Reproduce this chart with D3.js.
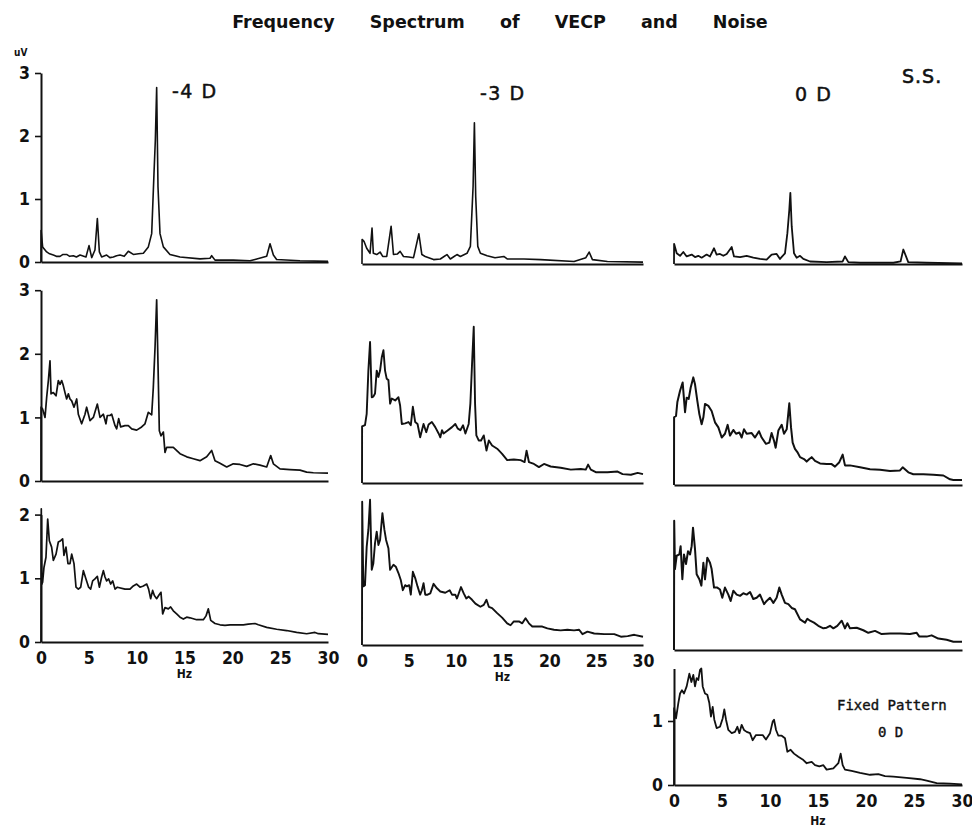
<!DOCTYPE html>
<html>
<head>
<meta charset="utf-8">
<script src="https://cdn.jsdelivr.net/npm/d3@7"></script>
<style>
  body { margin: 0; background: #fff; }
  svg { display: block; }
</style>
</head>
<body>
<svg id="chart" width="972" height="828"></svg>
<script>
// ---- Spectra: [frequency Hz, amplitude uV] ----
const upper_m4D = [[0,0],[0.01,0.50],[0.17,0.24],[0.59,0.16],[0.9,0.13],[1.29,0.11],[1.6,0.09],[1.99,0.09],[2.3,0.12],[2.68,0.12],[3.0,0.09],[3.38,0.10],[3.7,0.08],[4.08,0.11],[4.70,0.08],[5.02,0.26],[5.30,0.07],[5.64,0.19],[5.89,0.69],[6.10,0.16],[6.34,0.08],[6.86,0.11],[7.2,0.07],[7.56,0.08],[7.9,0.10],[8.26,0.11],[8.7,0.09],[9.13,0.17],[9.65,0.12],[10.2,0.13],[10.70,0.14],[11.22,0.24],[11.57,0.45],[11.81,1.40],[11.95,1.93],[12.09,2.77],[12.23,1.19],[12.44,0.45],[12.79,0.24],[13.48,0.12],[14.53,0.08],[16.62,0.05],[17.67,0.06],[17.84,0.10],[18.19,0.03],[20.10,0.03],[21.85,0.02],[22.37,0.04],[23.59,0.09],[23.94,0.29],[24.29,0.11],[24.63,0.04],[27.07,0.02],[30,0.01]];

const upper_m3D = [[0,0],[0.01,0.39],[0.21,0.36],[0.5,0.25],[0.86,0.17],[1.07,0.57],[1.21,0.17],[1.57,0.15],[1.93,0.19],[2.21,0.12],[2.64,0.12],[3.11,0.60],[3.36,0.15],[3.79,0.16],[4.07,0.20],[4.43,0.12],[5.0,0.11],[5.5,0.10],[6.07,0.48],[6.39,0.15],[6.75,0.12],[7.64,0.07],[8.36,0.08],[9.07,0.15],[9.43,0.08],[10.14,0.15],[10.5,0.12],[11.21,0.17],[11.57,0.28],[11.86,1.23],[12.0,2.24],[12.14,1.07],[12.36,0.28],[12.64,0.17],[13.36,0.13],[14.2,0.10],[15.14,0.12],[15.5,0.08],[17.29,0.08],[19.07,0.07],[22.64,0.04],[23.9,0.10],[24.25,0.19],[24.6,0.07],[26.2,0.04],[30,0.03]];

const upper_0D = [[0,0],[0.01,0.32],[0.28,0.17],[0.63,0.13],[0.97,0.19],[1.32,0.12],[1.84,0.15],[2.19,0.11],[2.53,0.13],[2.88,0.10],[3.40,0.15],[3.75,0.12],[4.17,0.25],[4.44,0.15],[4.79,0.16],[5.14,0.13],[5.49,0.16],[6.01,0.27],[6.25,0.12],[6.88,0.11],[7.57,0.13],[8.26,0.10],[8.96,0.08],[9.65,0.07],[10.17,0.15],[10.69,0.16],[11.04,0.08],[11.56,0.17],[11.81,0.49],[12.01,0.86],[12.12,1.13],[12.26,0.60],[12.5,0.17],[12.78,0.10],[13.13,0.13],[13.47,0.08],[14.17,0.04],[15.9,0.03],[17.57,0.04],[17.81,0.12],[18.16,0.03],[19.38,0.02],[22.85,0.02],[23.6,0.04],[23.89,0.23],[24.4,0.03],[26.3,0.02],[30,0.01]];

const middle_m4D = [[0,0],[0.01,1.16],[0.17,1.13],[0.42,1.00],[0.59,1.31],[0.77,1.58],[0.94,1.89],[1.05,1.37],[1.29,1.39],[1.57,1.34],[1.81,1.58],[1.99,1.52],[2.16,1.58],[2.33,1.50],[2.54,1.37],[2.68,1.29],[2.86,1.37],[3.03,1.29],[3.21,1.26],[3.45,1.16],[3.73,1.29],[3.90,1.05],[4.25,0.90],[4.60,1.05],[4.77,1.16],[5.12,0.95],[5.47,1.00],[5.89,1.21],[6.17,1.00],[6.52,1.05],[6.79,0.90],[6.93,1.03],[7.21,1.03],[7.39,1.05],[7.74,0.87],[7.91,0.82],[8.12,0.98],[8.33,0.85],[8.78,0.87],[9.13,0.87],[9.48,0.82],[10.0,0.80],[10.52,0.85],[10.87,0.90],[11.22,1.08],[11.57,1.04],[11.74,1.47],[11.92,2.10],[12.09,2.85],[12.23,1.84],[12.37,0.79],[12.54,0.71],[12.79,0.77],[12.96,0.45],[13.14,0.53],[13.83,0.53],[14.53,0.43],[15.23,0.38],[15.92,0.35],[16.62,0.32],[17.32,0.38],[17.84,0.48],[18.19,0.32],[18.71,0.28],[19.41,0.22],[20.10,0.27],[20.80,0.26],[21.50,0.23],[22.20,0.27],[22.89,0.25],[23.59,0.22],[24.01,0.40],[24.29,0.27],[24.98,0.19],[26.03,0.18],[27.07,0.17],[27.77,0.14],[28.47,0.13],[30,0.125]];

const middle_m3D = [[0,0],[0.01,0.89],[0.32,0.91],[0.5,1.09],[0.68,1.77],[0.86,2.22],[1.04,1.35],[1.21,1.36],[1.39,1.41],[1.57,1.77],[1.75,1.67],[1.93,1.77],[2.11,1.98],[2.29,2.09],[2.46,1.77],[2.64,1.64],[2.82,1.62],[3.0,1.25],[3.18,1.33],[3.54,1.30],[3.89,1.35],[4.07,1.22],[4.25,0.93],[4.61,0.94],[4.96,0.96],[5.21,0.91],[5.43,1.20],[5.68,0.96],[5.93,0.93],[6.21,0.72],[6.57,0.93],[6.86,0.80],[7.11,0.92],[7.46,0.96],[7.82,0.88],[8.18,0.78],[8.36,0.72],[8.54,0.83],[8.71,0.78],[9.07,0.82],[9.61,0.88],[9.96,0.93],[10.21,0.86],[10.5,0.83],[10.79,0.91],[11.04,0.78],[11.39,0.93],[11.57,1.25],[11.75,1.88],[11.93,2.46],[12.07,1.25],[12.21,0.75],[12.46,0.67],[12.71,0.67],[13.0,0.75],[13.29,0.51],[13.54,0.67],[13.89,0.59],[14.43,0.54],[14.96,0.46],[15.5,0.36],[16.21,0.37],[16.93,0.36],[17.36,0.33],[17.57,0.51],[17.82,0.33],[18.36,0.30],[18.89,0.25],[19.43,0.30],[20.14,0.26],[21.21,0.24],[22.29,0.21],[23.36,0.22],[23.89,0.21],[24.14,0.29],[24.43,0.21],[24.96,0.17],[26.21,0.17],[27.29,0.18],[27.82,0.14],[28.71,0.13],[29.43,0.16],[30,0.14]];

const middle_0D = [[0,0],[0.01,1.07],[0.21,1.09],[0.35,1.31],[0.63,1.49],[0.90,1.62],[1.15,1.15],[1.32,1.38],[1.53,1.36],[1.74,1.54],[2.01,1.70],[2.19,1.59],[2.43,1.33],[2.64,1.12],[2.88,0.96],[3.06,1.07],[3.23,1.28],[3.58,1.25],[3.92,1.17],[4.27,0.99],[4.62,0.91],[4.97,0.75],[5.31,0.81],[5.59,0.95],[5.83,0.78],[6.18,0.87],[6.46,0.81],[6.81,0.83],[7.05,0.75],[7.29,0.88],[7.57,0.81],[8.09,0.82],[8.44,0.75],[8.85,0.85],[9.13,0.75],[9.58,0.65],[9.93,0.67],[10.17,0.82],[10.42,0.70],[10.59,0.59],[10.87,0.86],[11.22,0.95],[11.46,0.81],[11.74,0.88],[12.01,1.29],[12.19,0.91],[12.36,0.67],[12.6,0.57],[12.85,0.52],[13.13,0.44],[13.54,0.41],[13.82,0.37],[14.1,0.41],[14.34,0.44],[14.69,0.38],[15.21,0.34],[15.9,0.33],[16.42,0.33],[16.77,0.29],[17.22,0.36],[17.57,0.48],[17.81,0.31],[18.33,0.31],[19.38,0.28],[20.42,0.25],[21.46,0.24],[22.5,0.22],[23.54,0.23],[23.82,0.28],[24.41,0.20],[24.93,0.17],[25.97,0.17],[27.01,0.16],[28.06,0.15],[28.75,0.09],[29.1,0.08],[30,0.08]];

const lower_m4D = [[0,0],[0.03,2.09],[0.08,0.91],[0.17,0.94],[0.31,1.17],[0.52,1.33],[0.70,1.93],[0.87,1.59],[1.11,1.49],[1.29,1.28],[1.57,1.38],[1.81,1.57],[2.06,1.59],[2.26,1.62],[2.40,1.36],[2.61,1.49],[2.82,1.23],[3.03,1.23],[3.21,1.38],[3.45,1.23],[3.66,0.86],[3.90,0.83],[4.15,0.86],[4.43,1.12],[4.70,0.99],[4.98,0.86],[5.19,0.83],[5.40,0.96],[5.64,0.99],[5.89,1.03],[6.10,0.86],[6.34,1.02],[6.52,1.12],[6.69,1.02],[6.86,0.96],[7.07,0.99],[7.28,0.91],[7.49,0.96],[7.74,0.83],[7.98,0.86],[8.78,0.83],[9.30,0.83],[9.65,0.88],[10.0,0.91],[10.35,0.86],[10.70,0.88],[11.05,0.91],[11.25,0.83],[11.46,0.68],[11.67,0.81],[11.85,0.73],[12.09,0.68],[12.30,0.73],[12.54,0.78],[12.72,0.44],[12.96,0.54],[13.31,0.52],[13.55,0.55],[13.83,0.49],[14.18,0.44],[14.53,0.39],[14.88,0.36],[15.23,0.39],[15.57,0.38],[16.27,0.35],[16.97,0.35],[17.25,0.41],[17.49,0.52],[17.74,0.34],[18.19,0.29],[18.71,0.27],[19.23,0.26],[19.76,0.27],[20.45,0.27],[21.15,0.27],[21.67,0.28],[22.37,0.29],[22.72,0.27],[23.59,0.23],[24.63,0.20],[25.68,0.18],[26.72,0.15],[27.77,0.13],[28.64,0.15],[28.99,0.13],[30,0.12]];

const lower_m3D = [[0,0],[0.02,2.25],[0.14,0.92],[0.32,0.94],[0.5,1.54],[0.68,1.81],[0.86,2.28],[1.04,1.18],[1.21,1.28],[1.39,1.60],[1.57,1.78],[1.75,1.57],[1.93,1.65],[2.18,2.07],[2.39,1.81],[2.57,1.65],[2.82,1.52],[3.0,1.18],[3.36,1.26],[3.61,1.23],[3.89,1.13],[4.14,1.02],[4.36,0.86],[4.61,0.94],[4.79,0.92],[5.04,0.94],[5.21,0.79],[5.43,1.15],[5.68,1.05],[5.93,0.92],[6.21,0.79],[6.39,0.86],[6.57,0.97],[6.75,0.79],[7.0,0.79],[7.29,0.81],[7.64,0.96],[8.0,0.89],[8.36,0.84],[8.89,0.82],[9.36,0.86],[9.61,0.79],[9.96,0.79],[10.14,0.73],[10.57,0.91],[10.86,0.81],[11.14,0.73],[11.39,0.76],[11.75,0.71],[12.11,0.65],[12.64,0.60],[13.0,0.63],[13.29,0.71],[13.54,0.60],[13.89,0.58],[14.43,0.50],[14.96,0.43],[15.5,0.34],[15.86,0.31],[16.21,0.37],[16.75,0.37],[17.11,0.34],[17.46,0.42],[17.82,0.34],[18.18,0.29],[18.71,0.29],[19.25,0.29],[19.79,0.26],[20.5,0.24],[21.21,0.23],[21.93,0.24],[22.64,0.23],[23.18,0.24],[23.54,0.17],[24.07,0.21],[24.79,0.18],[25.86,0.17],[26.93,0.17],[27.64,0.13],[28.36,0.14],[29.07,0.16],[30,0.13]];

const lower_0D = [[0,0],[0.02,2.03],[0.10,1.27],[0.28,1.48],[0.56,1.50],[0.69,1.63],[0.87,1.11],[1.04,1.50],[1.25,1.35],[1.46,1.55],[1.67,1.50],[1.84,1.63],[1.98,1.92],[2.19,1.58],[2.36,1.19],[2.64,1.11],[2.85,1.01],[3.06,1.37],[3.23,1.11],[3.47,1.45],[3.75,1.37],[3.92,1.27],[4.17,0.98],[4.51,0.98],[4.79,0.95],[5.03,0.82],[5.31,0.98],[5.66,0.87],[5.90,0.77],[6.18,0.93],[6.53,0.87],[6.88,0.85],[7.22,0.89],[7.57,0.87],[7.92,0.91],[8.26,0.80],[8.61,0.82],[8.96,0.87],[9.38,0.72],[9.65,0.77],[10.0,0.82],[10.35,0.74],[10.69,0.82],[10.97,0.98],[11.22,0.87],[11.56,0.74],[11.91,0.72],[12.26,0.66],[12.60,0.64],[13.13,0.48],[13.65,0.43],[13.89,0.49],[14.17,0.46],[14.58,0.43],[15.03,0.38],[15.56,0.34],[15.9,0.35],[16.25,0.38],[16.6,0.34],[17.01,0.38],[17.47,0.46],[17.81,0.34],[18.06,0.42],[18.33,0.34],[19.03,0.35],[19.72,0.31],[20.24,0.27],[20.94,0.30],[21.63,0.25],[22.5,0.26],[23.54,0.26],[24.58,0.25],[25.28,0.27],[25.56,0.21],[26.32,0.21],[26.84,0.23],[27.53,0.18],[28.4,0.16],[29.1,0.13],[30,0.13]];

const fixed_0D = [[0,0],[0.01,1.20],[0.21,1.04],[0.45,1.28],[0.63,1.43],[0.83,1.48],[1.04,1.43],[1.32,1.54],[1.60,1.74],[1.81,1.61],[2.01,1.72],[2.19,1.54],[2.36,1.67],[2.53,1.64],[2.71,1.80],[2.85,1.82],[2.99,1.54],[3.23,1.43],[3.47,1.41],[3.68,1.28],[3.85,1.07],[4.03,1.22],[4.20,1.02],[4.44,0.89],[4.79,0.91],[5.07,1.04],[5.24,1.18],[5.42,1.02],[5.66,0.86],[6.01,0.81],[6.35,0.83],[6.60,0.91],[6.81,0.81],[7.05,0.94],[7.29,0.86],[7.57,0.83],[7.92,0.81],[8.19,0.70],[8.54,0.78],[8.89,0.78],[9.24,0.78],[9.58,0.71],[10.0,0.81],[10.28,0.99],[10.42,1.02],[10.63,0.86],[10.87,0.77],[11.22,0.77],[11.56,0.73],[11.81,0.52],[12.15,0.55],[12.5,0.49],[12.95,0.44],[13.4,0.40],[13.82,0.34],[14.34,0.36],[14.69,0.31],[15.14,0.29],[15.56,0.31],[15.9,0.24],[16.6,0.26],[17.12,0.34],[17.36,0.49],[17.57,0.31],[17.81,0.24],[18.5,0.22],[19.38,0.19],[20.42,0.16],[21.28,0.17],[21.98,0.14],[22.85,0.13],[24.24,0.11],[25.63,0.09],[26.32,0.07],[27.36,0.03],[28.75,0.02],[30,0.01]];

// ---- Axis ticks and labels ----
const freqTicks = [0, 5, 10, 15, 20, 25, 30];
const uvTicksTall = [0, 1, 2, 3];
const uvTicksShort = [0, 1, 2];
const uvTicksFixed = [0, 1];
const titleText = "Frequency Spectrum of VECP and Noise";
const refractionLabels = ["-4 D", "-3 D", "0 D"];
const subjectLabel = "S.S.";
const unitLabel = "uV";
const freqUnit = "Hz";
const fixedLabel = ["Fixed Pattern", "0 D"];

// ---- Layout ----
const ink = "#111";
const monoFont = "'DejaVu Sans Condensed', 'DejaVu Sans', sans-serif";
const colX = [41, 362, 674];
const colW = [287, 281, 288];

const panels = [
  { data: upper_m4D,  col: 0, base: 262, unit: 63,   ymax: 3,   yTicks: uvTicksTall,  freqLabels: false, lw: 1.6 },
  { data: upper_m3D,  col: 1, base: 264, unit: 63,   ymax: 3,   yTicks: null,         freqLabels: false, lw: 1.6 },
  { data: upper_0D,   col: 2, base: 264, unit: 63,   ymax: 3,   yTicks: null,         freqLabels: false, lw: 1.8 },
  { data: middle_m4D, col: 0, base: 481, unit: 63.6, ymax: 3,   yTicks: uvTicksTall,  freqLabels: false, lw: 1.7 },
  { data: middle_m3D, col: 1, base: 483, unit: 63.5, ymax: 3,   yTicks: null,         freqLabels: false, lw: 1.9 },
  { data: middle_0D,  col: 2, base: 485, unit: 63.3, ymax: 3,   yTicks: null,         freqLabels: false, lw: 2.0 },
  { data: lower_m4D,  col: 0, base: 642, unit: 63.7, ymax: 2,   yTicks: uvTicksShort, freqLabels: true,  lw: 1.7 },
  { data: lower_m3D,  col: 1, base: 645, unit: 63.7, ymax: 2,   yTicks: null,         freqLabels: true,  lw: 1.9 },
  { data: lower_0D,   col: 2, base: 650, unit: 63.7, ymax: 2,   yTicks: null,         freqLabels: false, lw: 2.0 },
  { data: fixed_0D,   col: 2, base: 785, unit: 64,   ymax: 1.82,yTicks: uvTicksFixed, freqLabels: true,  lw: 1.8 }
];

const svg = d3.select("#chart");
svg.append("rect").attr("width", 972).attr("height", 828).attr("fill", "#fff");

panels.forEach(p => {
  const x = d3.scaleLinear().domain([0, 30]).range([colX[p.col], colX[p.col] + colW[p.col]]);
  const y = d3.scaleLinear().domain([0, p.ymax]).range([p.base, p.base - p.ymax * p.unit]);
  const g = svg.append("g");

  // frequency axis
  const xAxis = d3.axisBottom(x)
    .tickValues(p.freqLabels ? freqTicks : [])
    .tickSize(0).tickSizeOuter(0).tickPadding(10);
  const gx = g.append("g").attr("transform", `translate(0,${p.base})`).call(xAxis);
  gx.select(".domain").attr("stroke", ink).attr("stroke-width", 2);
  gx.selectAll(".tick text")
    .attr("font-family", monoFont).attr("font-weight", "bold")
    .attr("font-size", 17.5).attr("fill", ink);

  if (p.freqLabels) {
    g.append("text")
      .attr("x", (x(0) + x(30)) / 2)
      .attr("y", p.col === 2 ? p.base + 40 : p.base + 36)
      .attr("text-anchor", "middle")
      .attr("font-family", monoFont).attr("font-weight", "bold")
      .attr("font-size", 12).attr("fill", ink)
      .text(freqUnit);
  }

  // amplitude axis
  if (p.yTicks) {
    const yAxis = d3.axisLeft(y).tickValues(p.yTicks)
      .tickSize(6).tickSizeOuter(0).tickPadding(5)
      .tickFormat(d3.format("d"));
    const gy = g.append("g").attr("transform", `translate(${x(0)},0)`).call(yAxis);
    gy.select(".domain").attr("stroke", ink).attr("stroke-width", 2);
    gy.selectAll(".tick line").attr("stroke", ink).attr("stroke-width", 1.6);
    gy.selectAll(".tick text")
      .attr("font-family", monoFont).attr("font-weight", "bold")
      .attr("font-size", 17.5).attr("fill", ink);
  }

  // spectrum trace
  const line = d3.line()
    .x(d => x(Math.min(d[0], 30)))
    .y(d => y(d[1]));
  g.append("path")
    .datum(p.data)
    .attr("d", line)
    .attr("fill", "none")
    .attr("stroke", ink)
    .attr("stroke-width", p.lw)
    .attr("stroke-linejoin", "round");
});

// ---- Text ----
svg.append("text")
  .attr("x", 500).attr("y", 28)
  .attr("text-anchor", "middle")
  .attr("font-family", "'DejaVu Sans', sans-serif")
  .attr("font-weight", "bold").attr("font-size", 17.5)
  .attr("word-spacing", 29)
  .attr("fill", ink)
  .text(titleText);

const labelPos = [[172, 98], [480, 100], [795, 101]];
refractionLabels.forEach((t, i) => {
  svg.append("text")
    .attr("x", labelPos[i][0]).attr("y", labelPos[i][1])
    .attr("font-family", "'DejaVu Sans', sans-serif")
    .attr("font-size", 19).attr("letter-spacing", 1.5)
    .attr("stroke", ink).attr("stroke-width", 0.5)
    .attr("fill", ink)
    .text(t);
});

svg.append("text")
  .attr("x", 902).attr("y", 83)
  .attr("font-family", "'DejaVu Sans', sans-serif")
  .attr("font-size", 19).attr("letter-spacing", 1)
  .attr("stroke", ink).attr("stroke-width", 0.6)
  .attr("fill", ink)
  .text(subjectLabel);

svg.append("text")
  .attr("x", 14).attr("y", 56)
  .attr("font-family", monoFont).attr("font-weight", "bold")
  .attr("font-size", 10).attr("fill", ink)
  .text(unitLabel);

svg.append("text")
  .attr("x", 837).attr("y", 710)
  .attr("font-family", "'DejaVu Sans Mono', monospace")
  .attr("font-size", 14).attr("fill", ink)
  .attr("stroke", ink).attr("stroke-width", 0.4)
  .text(fixedLabel[0]);

svg.append("text")
  .attr("x", 878).attr("y", 737)
  .attr("font-family", "'DejaVu Sans Mono', monospace")
  .attr("font-size", 14).attr("fill", ink)
  .attr("stroke", ink).attr("stroke-width", 0.4)
  .text(fixedLabel[1]);
</script>
</body>
</html>
